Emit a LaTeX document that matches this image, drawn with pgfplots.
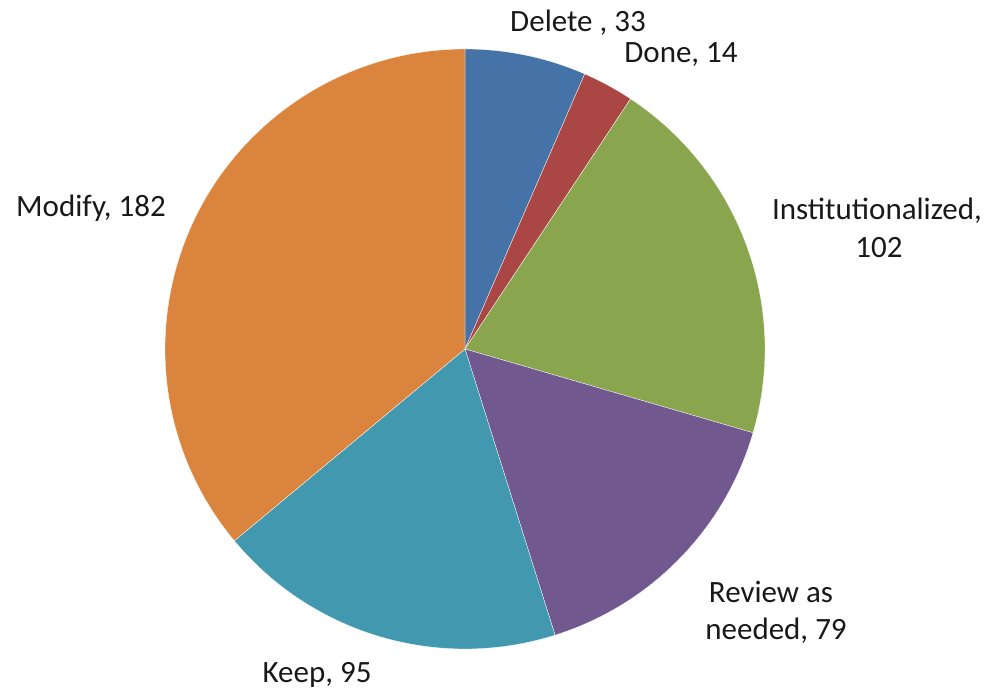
\documentclass[border=0pt]{standalone}
\usepackage{fontspec}
\setmainfont{Carlito}
\usepackage{pgfplots}
\pgfplotsset{compat=1.18}

\definecolor{cDelete}{HTML}{4572A7}
\definecolor{cDone}{HTML}{AA4643}
\definecolor{cInst}{HTML}{89A54E}
\definecolor{cReview}{HTML}{71588F}
\definecolor{cKeep}{HTML}{4198AF}
\definecolor{cModify}{HTML}{DB843D}

\begin{document}
\begin{tikzpicture}
\begin{axis}[
    scale only axis,
    width=990pt, height=692pt,
    xmin=0, xmax=990, ymin=0, ymax=692,
    hide axis,
    clip=false,
]
\path (axis cs:0,0) rectangle (axis cs:990,692);

% slices, clockwise from 12 o'clock (total 505)
\gdef\cum{0}
\foreach \v/\c in {33/cDelete, 14/cDone, 102/cInst, 79/cReview, 95/cKeep, 182/cModify}{
    \pgfmathsetmacro{\a}{90-\cum/505*360}
    \pgfmathsetmacro{\b}{90-(\cum+\v)/505*360}
    \edef\temp{\noexpand\fill[\c, draw=white, line width=0.3pt]
        (axis cs:465,343) -- ++(\a:300pt) arc[start angle=\a, end angle=\b, radius=300pt] -- cycle;}
    \temp
    \pgfmathsetmacro{\n}{\cum+\v}
    \xdef\cum{\n}
}

% labels
\tikzset{lbl/.style={font=\fontsize{31}{38}\selectfont, anchor=base, inner sep=0pt, text=black!90}}
\node[lbl] at (axis cs:578,660) {Delete , 33};
\node[lbl] at (axis cs:681,629) {Done, 14};
\node[lbl] at (axis cs:877,472) {Institutionalized,};
\node[lbl] at (axis cs:879,434) {102};
\node[lbl] at (axis cs:771,89) {Review as};
\node[lbl] at (axis cs:776,52) {needed, 79};
\node[lbl] at (axis cs:317,9) {Keep, 95};
\node[lbl] at (axis cs:91,475) {Modify, 182};
\end{axis}
\end{tikzpicture}
\end{document}
